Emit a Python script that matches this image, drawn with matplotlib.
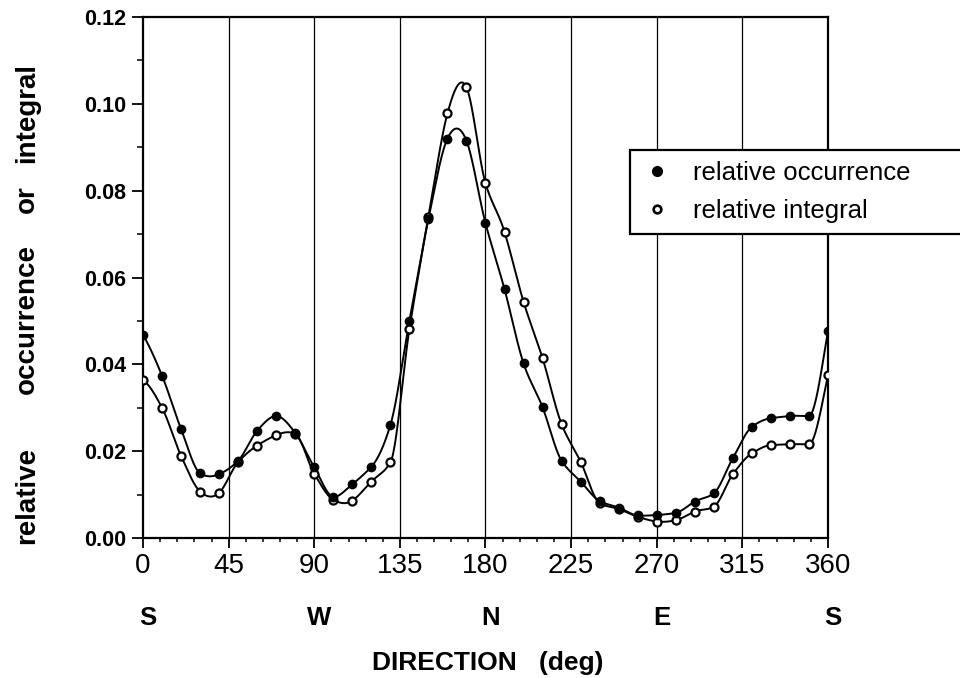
import numpy as np
import matplotlib
matplotlib.use("Agg")
import matplotlib.pyplot as plt
from matplotlib.lines import Line2D
from matplotlib.ticker import MultipleLocator, FixedLocator, FormatStrFormatter
import matplotlib.transforms as mtransforms

plt.rcParams['font.family'] = ['Liberation Sans', 'DejaVu Sans']

# Wind direction (deg), sampled every 10 degrees
direction = np.arange(0, 361, 10)

# Relative occurrence of each direction
occurrence = [0.0468, 0.0374, 0.0251, 0.0149, 0.0147, 0.0178, 0.0247, 0.0281,
              0.0242, 0.0163, 0.0095, 0.0124, 0.0164, 0.0260, 0.0500, 0.0735,
              0.0920, 0.0915, 0.0725, 0.0573, 0.0402, 0.0301, 0.0178, 0.0130,
              0.0085, 0.0070, 0.0052, 0.0053, 0.0058, 0.0084, 0.0103, 0.0184,
              0.0256, 0.0276, 0.0281, 0.0281, 0.0477]

# Relative integral for each direction
integral = [0.0364, 0.0300, 0.0189, 0.0107, 0.0104, 0.0175, 0.0213, 0.0237,
            0.0240, 0.0148, 0.0088, 0.0086, 0.0130, 0.0174, 0.0481, 0.0739,
            0.0978, 0.1038, 0.0817, 0.0705, 0.0544, 0.0414, 0.0262, 0.0176,
            0.0080, 0.0067, 0.0049, 0.0038, 0.0041, 0.0061, 0.0072, 0.0147,
            0.0195, 0.0214, 0.0216, 0.0216, 0.0375]

x_ticks = [0, 45, 90, 135, 180, 225, 270, 315, 360]
compass_pos = [0, 90, 180, 270, 360]
compass_lbl = ['S', 'W', 'N', 'E', 'S']
ylabel_words = ['relative', 'occurrence', 'or', 'integral']


def smooth_curve(x, y, n=40):
    """Modified-Akima cubic through the points, used to draw a smooth line."""
    x = np.asarray(x, float)
    y = np.asarray(y, float)
    h = np.diff(x)
    m = np.diff(y) / h
    mm = 2 * m[0] - m[1]
    mmm = 2 * mm - m[0]
    mp = 2 * m[-1] - m[-2]
    mpp = 2 * mp - m[-1]
    me = np.concatenate([[mmm, mm], m, [mp, mpp]])
    dm = np.abs(np.diff(me))
    pm = np.abs(me[1:] + me[:-1])
    npts = len(x)
    f1 = dm[2:] + 0.5 * pm[2:]
    f2 = dm[:npts] + 0.5 * pm[:npts]
    left = me[1:npts + 1]
    right = me[2:npts + 2]
    den = f1 + f2
    safe = np.where(den > 0, den, 1.0)
    t = np.where(den > 0, (f1 * left + f2 * right) / safe, 0.5 * (left + right))
    xs, ys = [], []
    for i in range(npts - 1):
        s = np.linspace(0, 1, n, endpoint=(i == npts - 2))
        h00 = 2 * s**3 - 3 * s**2 + 1
        h10 = s**3 - 2 * s**2 + s
        h01 = -2 * s**3 + 3 * s**2
        h11 = s**3 - s**2
        xs.append(x[i] + s * h[i])
        ys.append(h00 * y[i] + h10 * h[i] * t[i] + h01 * y[i + 1] + h11 * h[i] * t[i + 1])
    return np.concatenate(xs), np.concatenate(ys)


fig = plt.figure(figsize=(9.6, 6.78), dpi=100)
ax = fig.add_axes([143 / 960, 1 - 538 / 678, (828 - 143) / 960, (538 - 17) / 678])

# vertical reference lines every 45 degrees
for g in x_ticks[1:-1]:
    ax.axvline(g, color='black', lw=0.9, zorder=1)

sx, sy = smooth_curve(direction, integral)
ax.plot(sx, sy, color='black', lw=1.4, zorder=2)
sx, sy = smooth_curve(direction, occurrence)
ax.plot(sx, sy, color='black', lw=1.4, zorder=2)

ax.plot(direction, integral, linestyle='none', marker='o', markersize=5.8,
        markerfacecolor='white', markeredgecolor='black', markeredgewidth=1.6, zorder=3)
ax.plot(direction, occurrence, linestyle='none', marker='o', markersize=5.8,
        markerfacecolor='black', markeredgecolor='black', markeredgewidth=1.2, zorder=4)

ax.set_xlim(0, 360)
ax.set_ylim(0, 0.12)

ax.xaxis.set_major_locator(FixedLocator(x_ticks))
ax.xaxis.set_minor_locator(MultipleLocator(9))
ax.yaxis.set_major_locator(MultipleLocator(0.02))
ax.yaxis.set_minor_locator(MultipleLocator(0.01))
ax.yaxis.set_major_formatter(FormatStrFormatter('%.2f'))

ax.tick_params(axis='x', which='major', direction='out', length=7, width=1.3,
               pad=4, labelsize=20)
ax.tick_params(axis='x', which='minor', direction='out', length=3, width=1.1)
ax.tick_params(axis='y', which='major', direction='out', length=8, width=1.3,
               pad=4, labelsize=15.5)
ax.tick_params(axis='y', which='minor', direction='out', length=4, width=1.1)
for lab in ax.get_yticklabels():
    lab.set_fontweight('bold')

for sp in ax.spines.values():
    sp.set_linewidth(1.6)

# compass letters below the degree labels
trans = mtransforms.blended_transform_factory(ax.transData, ax.transAxes)
trans = mtransforms.offset_copy(trans, fig=fig, x=3.5, y=0, units='points')
for pos, lbl in zip(compass_pos, compass_lbl):
    ax.text(pos, -0.153, lbl, transform=trans, ha='center', va='center',
            fontsize=18.5, fontweight='bold')

fig.text(488 / 960, 1 - 663 / 678, 'DIRECTION   (deg)', ha='center', va='center',
         fontsize=19, fontweight='bold')

# vertical axis title, words spread along the axis
for word, yc in zip(ylabel_words, [495, 319, 199, 113]):
    fig.text(27 / 960, 1 - yc / 678, word, rotation=90, ha='center',
             va='center', fontsize=20, fontweight='bold')

handles = [
    Line2D([], [], linestyle='none', marker='o', markersize=7,
           markerfacecolor='black', markeredgecolor='black'),
    Line2D([], [], linestyle='none', marker='o', markersize=5.5,
           markerfacecolor='white', markeredgecolor='black', markeredgewidth=1.9),
]
leg = ax.legend(handles, ['relative occurrence', 'relative integral'],
                loc='upper left', mode='expand',
                bbox_to_anchor=(630 / 960, 1 - 150 / 678, 340 / 960, 0),
                bbox_transform=fig.transFigure,
                fontsize=18.5, frameon=True, fancybox=False, shadow=False,
                borderpad=0.42, labelspacing=0.56, handlelength=1.3,
                handletextpad=0.72, borderaxespad=0)
leg.get_frame().set_edgecolor('black')
leg.get_frame().set_linewidth(1.6)
leg.get_frame().set_alpha(1)
leg.set_zorder(10)

fig.savefig('out.png', dpi=100, facecolor='white')
